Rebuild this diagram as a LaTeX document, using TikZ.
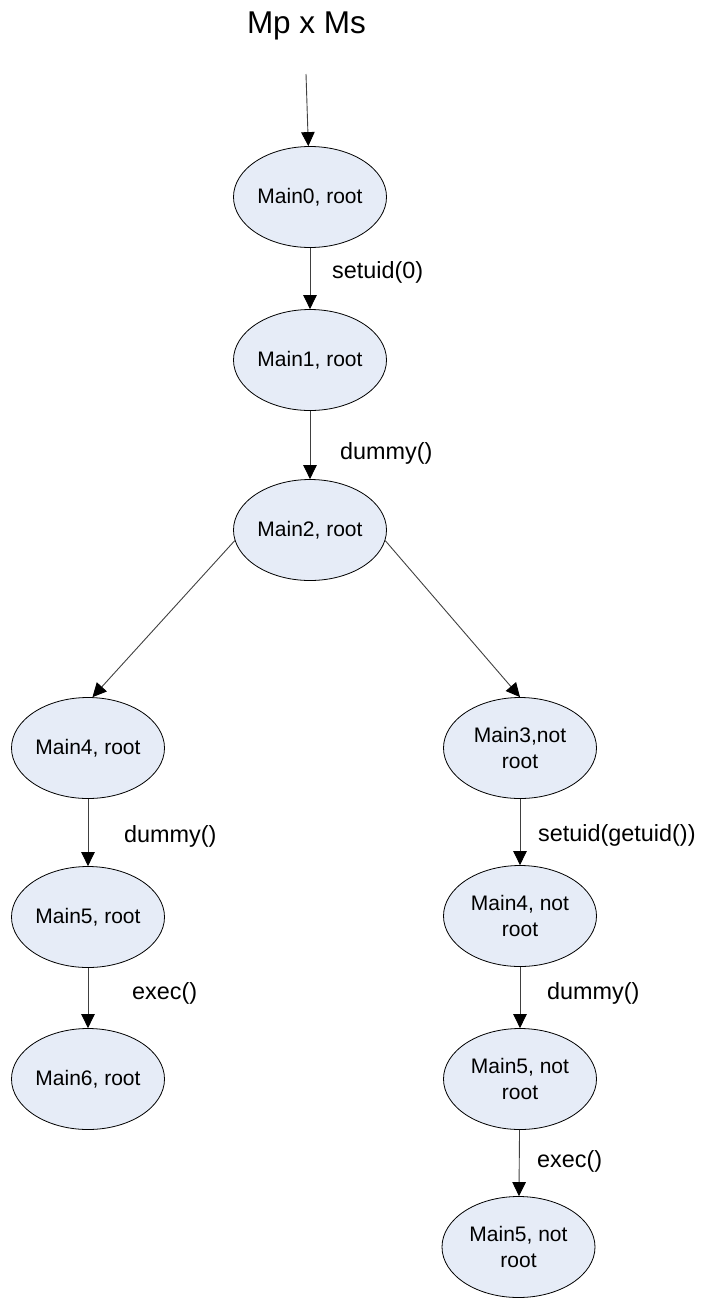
\documentclass[tikz,border=0pt]{standalone}
\usepackage{fontspec}
\setmainfont{Liberation Sans}
\usetikzlibrary{shapes.geometric,arrows.meta}
\definecolor{statefill}{HTML}{E6ECF7}
\tikzset{
  state/.style={ellipse, draw=black, line width=0.8pt, fill=statefill,
    minimum width=153pt, minimum height=101pt, inner sep=0pt, align=center,
    font=\fontsize{21}{26}\selectfont},
  trans/.style={draw=black!75, line width=0.9pt,
    -{Triangle[length=14pt,width=13.5pt,black]}},
  call/.style={anchor=west, inner sep=0pt, font=\fontsize{23.4}{28}\selectfont},
}
\begin{document}
\begin{tikzpicture}[x=1pt,y=-1pt]
  \useasboundingbox (0,0) rectangle (704,1299);

  % title and entry point
  \node[font=\fontsize{31.5}{36}\selectfont] (title) at (306.5,26) {Mp x Ms};
  \coordinate (entry) at (306,74);

  % main chain
  \node[state] (m0) at (310,197) {Main0, root};
  \node[state] (m1) at (310,360) {Main1, root};
  \node[state] (m2) at (310,530) {Main2, root};

  % left branch (stays root)
  \node[state] (l4) at (88,748) {Main4, root};
  \node[state] (l5) at (88,917) {Main5, root};
  \node[state] (l6) at (88,1079) {Main6, root};

  % right branch (drops root)
  \node[state] (r3) at (520,748) {Main3,not\\root};
  \node[state] (r4) at (520,916) {Main4, not\\root};
  \node[state] (r5) at (520,1079) {Main5, not\\root};
  \node[state] (r6) at (518.5,1247) {Main5, not\\root};

  % transitions
  \draw[trans] (entry) -- (m0);
  \draw[trans] (m0) -- (m1);
  \draw[trans] (m1) -- (m2);
  \draw[trans] (m2.188) -- (l4.85);
  \draw[trans] (m2.-8) -- (r3.north);
  \draw[trans] (l4) -- (l5);
  \draw[trans] (l5) -- (l6);
  \draw[trans] (r3) -- (r4);
  \draw[trans] (r4) -- (r5);
  \draw[trans] (r5) -- (r6);

  % call labels
  \node[call] (c01) at (332,272) {setuid(0)};
  \node[call] (c12) at (340,453) {dummy()};
  \node[call] (cl45) at (124,836) {dummy()};
  \node[call] (cl56) at (132,993) {exec()};
  \node[call] (cr34) at (538,835) {setuid(getuid())};
  \node[call] (cr45) at (547,993) {dummy()};
  \node[call] (cr56) at (537,1161) {exec()};
\end{tikzpicture}
\end{document}
